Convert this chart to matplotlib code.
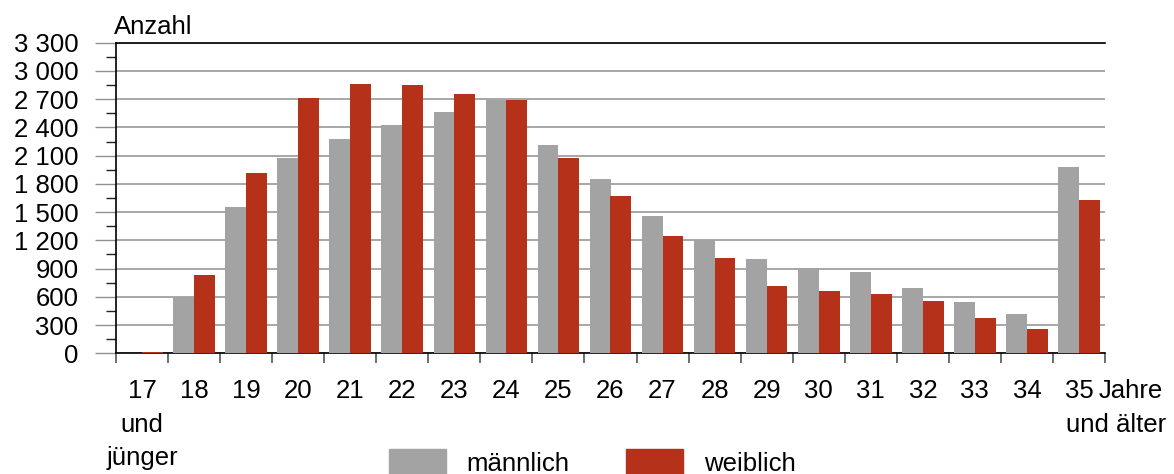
import matplotlib
matplotlib.use("Agg")
import matplotlib.pyplot as plt
from matplotlib.patches import Patch
from matplotlib.transforms import blended_transform_factory
import numpy as np

plt.rcParams['font.family'] = ['Liberation Sans', 'DejaVu Sans']

# Altersgruppen
alter = ['17', '18', '19', '20', '21', '22', '23', '24', '25', '26',
         '27', '28', '29', '30', '31', '32', '33', '34', '35']
maennlich = [0, 600, 1555, 2080, 2278, 2425, 2563, 2690, 2212, 1850,
             1458, 1203, 1000, 902, 864, 694, 545, 418, 1978]
weiblich = [15, 832, 1915, 2712, 2860, 2850, 2754, 2690, 2075, 1671,
            1246, 1012, 715, 662, 630, 556, 375, 258, 1628]
yticks = [0, 300, 600, 900, 1200, 1500, 1800, 2100, 2400, 2700, 3000, 3300]
ytick_labels = ['0', '300', '600', '900', '1 200', '1 500', '1 800', '2 100',
                '2 400', '2 700', '3 000', '3 300']

grau = '#a3a3a3'
rot = '#b5311a'
fs = 18.5

fig = plt.figure(figsize=(11.74, 4.74), dpi=100)
ax = fig.add_axes([116 / 1174, 1 - 353.3 / 474, (1105 - 116) / 1174, (353.3 - 42.7) / 474])

x = np.arange(len(alter))
w = 0.4
ax.bar(x - w / 2, maennlich, w, color=grau, zorder=3)
ax.bar(x + w / 2, weiblich, w, color=rot, zorder=3)

ax.set_xlim(-0.5, len(alter) - 0.5)
ax.set_ylim(0, 3300)

ax.set_yticks(yticks)
ax.set_yticklabels(ytick_labels, fontsize=fs)
ax.set_yticks(np.arange(150, 3300, 300), minor=True)
ax.tick_params(axis='y', which='major', length=15, width=1, color='#909090', pad=12)
ax.tick_params(axis='y', which='minor', length=7.5, width=1, color='#222222')
ax.yaxis.grid(True, which='major', color='#a0a0a0', linewidth=1.3, zorder=0)

ax.set_xticks(np.arange(-0.5, len(alter), 1.0))
ax.set_xticklabels([])
ax.tick_params(axis='x', which='major', length=7.5, width=1.2, color='#555555')

for s in ['left', 'bottom', 'top']:
    ax.spines[s].set_color('black')
    ax.spines[s].set_linewidth(1.2)
ax.spines['right'].set_visible(False)

# x-Beschriftung
px = lambda yy: 1 - yy / 474
tr = blended_transform_factory(ax.transData, fig.transFigure)
for xi, lab in zip(x, alter):
    ax.text(xi, px(398), lab, transform=tr, ha='center', va='baseline', fontsize=fs)
ax.text(0, px(432), 'und', transform=tr, ha='center', va='baseline', fontsize=fs)
ax.text(0, px(465), 'jünger', transform=tr, ha='center', va='baseline', fontsize=fs)
fig.text(1099 / 1174, px(398), 'Jahre', ha='left', va='baseline', fontsize=fs)
fig.text(1166 / 1174, px(432), 'und älter', ha='right', va='baseline', fontsize=fs)
fig.text(114 / 1174, px(34), 'Anzahl', ha='left', va='baseline', fontsize=fs)

handles = [Patch(color=grau, label='männlich'), Patch(color=rot, label='weiblich')]
fig.legend(handles=handles, ncol=2, frameon=False, fontsize=fs,
           loc='upper left', bbox_to_anchor=(384 / 1174, px(444)),
           handlelength=2.22, handleheight=1.2, handletextpad=0.8,
           columnspacing=2.2, borderaxespad=0, borderpad=0.2)

fig.savefig('out.png', dpi=100)
